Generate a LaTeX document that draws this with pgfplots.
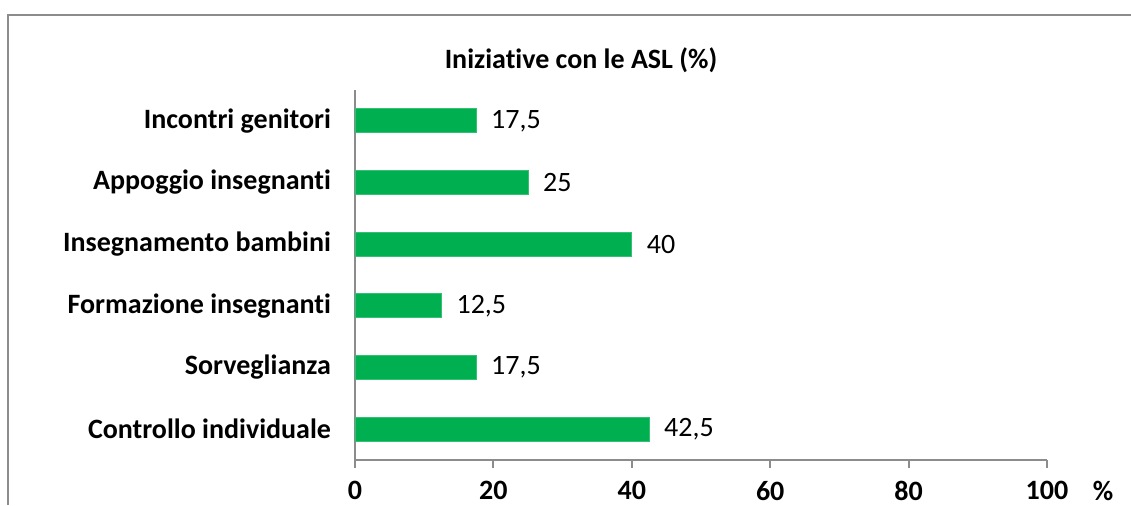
\documentclass[border=0pt]{standalone}
\usepackage{fontspec}
\setmainfont{Carlito}[Ligatures=NoCommon]
\usepackage{pgfplots}
\pgfplotsset{compat=1.18}
\definecolor{barG}{HTML}{00B050}
\definecolor{axG}{HTML}{8C8C8C}
\begin{document}
\begin{tikzpicture}[x=0.5pt,y=0.5pt]
% picture size: 1131 x 505 px, origin at the axis' lower left corner
\useasboundingbox (-355,-45) rectangle (776,460);
\draw[axG, line width=1pt] (-347,-45) -- (-347,445) -- (776,445);
\begin{axis}[
  at={(0,0)}, anchor=south west,
  scale only axis, width=346pt, height=185pt,
  xmin=0, xmax=100, ymin=-0.5, ymax=5.5,
  axis x line*=bottom, axis y line*=left,
  axis line style={axG, line width=1pt},
  xtick={0,20,...,100},
  ytick={0,...,5},
  yticklabels={Controllo individuale,Sorveglianza,Formazione insegnanti,
    Insegnamento bambini,Appoggio insegnanti,Incontri genitori},
  ytick style={draw=none},
  extra y ticks={-0.5,0.5,1.5,2.5,3.5,4.5,5.5},
  extra y tick labels={},
  extra y tick style={major tick length=4pt, tick style={axG, line width=1pt}},
  tick align=outside, major tick length=4pt,
  xtick style={axG, line width=1pt},
  tick label style={font=\fontsize{14}{16}\selectfont\bfseries, text=black},
  /pgf/number format/assume math mode=true,
  xticklabel style={yshift=-3pt},
  yticklabel style={xshift=-4.5pt},
  xbar, bar width=12pt,
  nodes near coords,
  nodes near coords style={font=\fontsize{14}{16}\selectfont, text=black,
    /pgf/number format/use comma, xshift=4pt},
  clip=false,
]
\addplot[fill=barG, draw=barG!80!white] coordinates {
  (42.5,0) (17.5,1) (12.5,2) (40,3) (25,4) (17.5,5)
};
\end{axis}
\node[font=\fontsize{14}{16}\selectfont\bfseries] at (226,400) {Iniziative con le ASL (\%)};
\node[font=\fontsize{14}{16}\selectfont\bfseries] at (748,-31) {\%};
\end{tikzpicture}
\end{document}
